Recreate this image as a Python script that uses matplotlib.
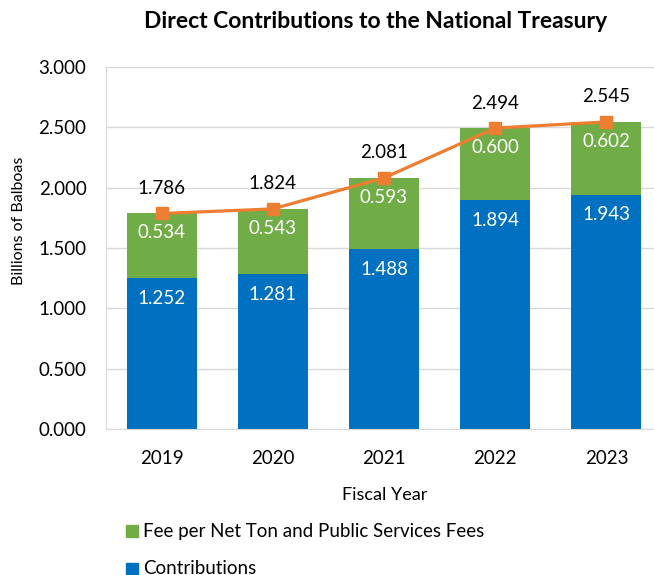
import matplotlib
matplotlib.use("Agg")
import matplotlib.pyplot as plt
import numpy as np

# Data (billions of balboas)
years = ["2019", "2020", "2021", "2022", "2023"]
contributions = [1.252, 1.281, 1.488, 1.894, 1.943]
fees = [0.534, 0.543, 0.593, 0.600, 0.602]
totals = [1.786, 1.824, 2.081, 2.494, 2.545]

BLUE = "#0070C0"
GREEN = "#70AD47"
ORANGE = "#ED7D31"

plt.rcParams['font.family'] = ['Lato', 'DejaVu Sans']

W, H = 654, 575
fig = plt.figure(figsize=(W / 100, H / 100), dpi=100)
# axes runs a little past the right edge of the figure
ax = fig.add_axes([106 / W, 1 - 429 / H, 556 / W, 362 / H])

x = np.arange(len(years))
w = 0.63
ax.bar(x, contributions, w, color=BLUE, zorder=2)
ax.bar(x, fees, w, bottom=contributions, color=GREEN, zorder=2)
ax.plot(x, totals, color=ORANGE, lw=2.3, marker="s", ms=8.5, zorder=3)

for i in range(len(years)):
    ax.annotate(f"{contributions[i]:.3f}", (x[i], contributions[i]), xytext=(0, -14.5),
                textcoords="offset points", ha="center", va="center", color="white", fontsize=13.5)
    ax.annotate(f"{fees[i]:.3f}", (x[i], totals[i]), xytext=(0, -14),
                textcoords="offset points", ha="center", va="center", color="white", fontsize=13.5)
    ax.annotate(f"{totals[i]:.3f}", (x[i], totals[i]), xytext=(0, 18), textcoords="offset points",
                ha="center", va="center", fontsize=13.5, color="black")

ax.set_ylim(0, 3.0)
ax.set_xlim(-0.5, 4.5)
yt = np.arange(0, 3.01, 0.5)
ax.set_yticks(yt)
ax.set_yticklabels([f"{v:.3f}" for v in yt])
ax.set_xticks(x)
ax.set_xticklabels(years)
ax.tick_params(axis="both", length=0, labelsize=13.5)
ax.tick_params(axis="y", pad=14)
ax.tick_params(axis="x", pad=15)
ax.yaxis.grid(True, color="#D9D9D9", lw=1, zorder=0)
ax.spines["right"].set_visible(False)
for side in ["left", "top", "bottom"]:
    ax.spines[side].set_color("#D9D9D9")

fig.text(19 / W, 1 - 221 / H, "Billions of Balboas", rotation=90, fontsize=11.5,
         ha="center", va="center")
fig.text(385 / W, 1 - 495 / H, "Fiscal Year", fontsize=13, ha="center", va="center")
fig.text(376 / W, 1 - 22 / H, "Direct Contributions to the National Treasury", fontsize=16.5,
         fontweight="bold", ha="center", va="center")

# legend rows under the axis
fig.patches.append(plt.Rectangle((126 / W, 1 - 537 / H), 12 / W, 12 / H,
                                 color=GREEN, transform=fig.transFigure))
fig.text(143 / W, 1 - 531 / H, "Fee per Net Ton and Public Services Fees", fontsize=13.5, va="center")
fig.patches.append(plt.Rectangle((126 / W, 1 - 575 / H), 12 / W, 12 / H,
                                 color=BLUE, transform=fig.transFigure))
fig.text(143 / W, 1 - 568 / H, "Contributions", fontsize=13.5, va="center")

plt.savefig("out.png", dpi=100)
